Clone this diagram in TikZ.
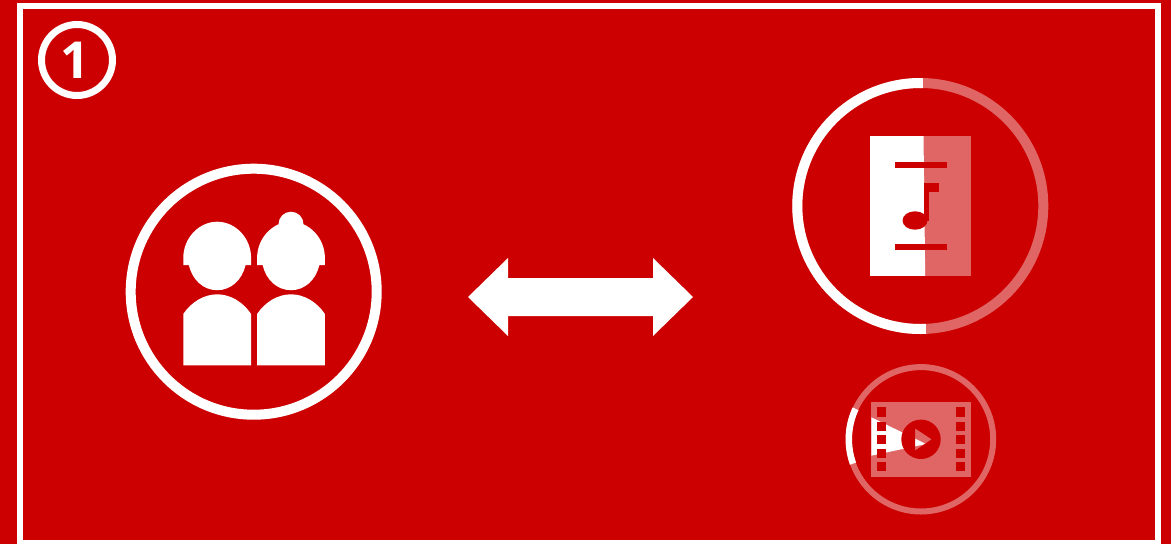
\documentclass[tikz,border=0pt]{standalone}
\usepackage{fontspec}
\setmainfont{Open Sans}
\definecolor{bgred}{RGB}{204,0,0}
\definecolor{pale}{RGB}{224,102,102}
\tikzset{
  frameline/.style={draw=white,line width=6pt},
  person/.pic={
    \fill[white] (-33.9,43.3) -- (-33.9,36.3) .. controls (-33.9,16) and (-18,0) .. (0,0)
      .. controls (18,0) and (33.9,16) .. (33.9,36.3) -- (33.9,43.3) -- (28.4,43.3)
      .. controls (25,58) and (14,68.5) .. (0,68.5) .. controls (-14,68.5) and (-25,58) .. (-28.4,43.3)
      -- cycle;
    \fill[white] (-33.9,92.3) .. controls (-26,80.3) and (-13,72.6) .. (0,72.6)
      .. controls (13,72.6) and (26,80.3) .. (33.9,92.3) -- (33.9,143.6) -- (-33.9,143.6) -- cycle;
  }
}
\begin{document}
\begin{tikzpicture}[x=1pt,y=-1pt]
\useasboundingbox (0,0) rectangle (1171,544);
\clip (0,0) rectangle (1171,544);
\fill[bgred] (0,0) rectangle (1171,544);
% frame
\draw[frameline] (20,6.3) rectangle (1157.6,543);
% badge
\draw[draw=white,line width=7pt] (77,60) circle (35.5);
\node[text=white,inner sep=0pt,font=\bfseries\fontsize{51}{51}\selectfont] (badge) at (75,60) {1};
% people
\draw[draw=white,line width=10pt] (253.7,291.7) circle (123);
\pic at (217.2,221.7) {person};
\pic at (291,221.7) {person};
\fill[white] (291,224.2) circle (12.5);
% double arrow
\fill[white] (468,297) -- (508,258) -- (508,278) -- (653,278) -- (653,258) -- (693,297)
  -- (653,336) -- (653,316) -- (508,316) -- (508,336) -- cycle;
% music
\draw[draw=pale,line width=10pt] (920.3,206) circle (123);
\fill[pale] (870,136) rectangle (971.3,276.3);
\begin{scope}
  \clip (780,70) -- (922.7,70) -- (926,340) -- (780,340) -- cycle;
  \draw[draw=white,line width=10pt] (920.3,206) circle (123);
  \fill[white] (870,136) rectangle (971.3,276.3);
\end{scope}
\fill[bgred] (895,161.7) rectangle (946.7,168.3);
\fill[bgred] (895,243.7) rectangle (946.7,250.3);
\fill[bgred] (915,220.5) ellipse (12.5 and 9.2);
\fill[bgred] (924.2,182.7) rectangle (928.6,220.5);
\fill[bgred] (924.2,182.7) rectangle (939,191.7);
% video
\draw[draw=pale,line width=6pt] (921,439.3) circle (72.2);
\begin{scope}
  \clip (921,439.3) -- (785,376) -- (785,488) -- cycle;
  \draw[draw=white,line width=6.5pt] (921,439.3) circle (72.2);
\end{scope}
\fill[pale] (871.3,402.3) rectangle (970.7,476.7);
\fill[white] (871.3,417.3) -- (926,444) -- (871.3,455.7) -- cycle;
\foreach \yy in {407.3,421.5,435,448.7,462}{
  \fill[bgred] (876.7,\yy) rectangle +(9.3,9.2);
  \fill[bgred] (956,\yy) rectangle +(9.3,9.2);
}
\fill[bgred,even odd rule] (921,439.3) circle (19.7)
  (915,428.3) -- (931.7,439.3) -- (915,450.7) -- cycle;
\end{tikzpicture}
\end{document}
